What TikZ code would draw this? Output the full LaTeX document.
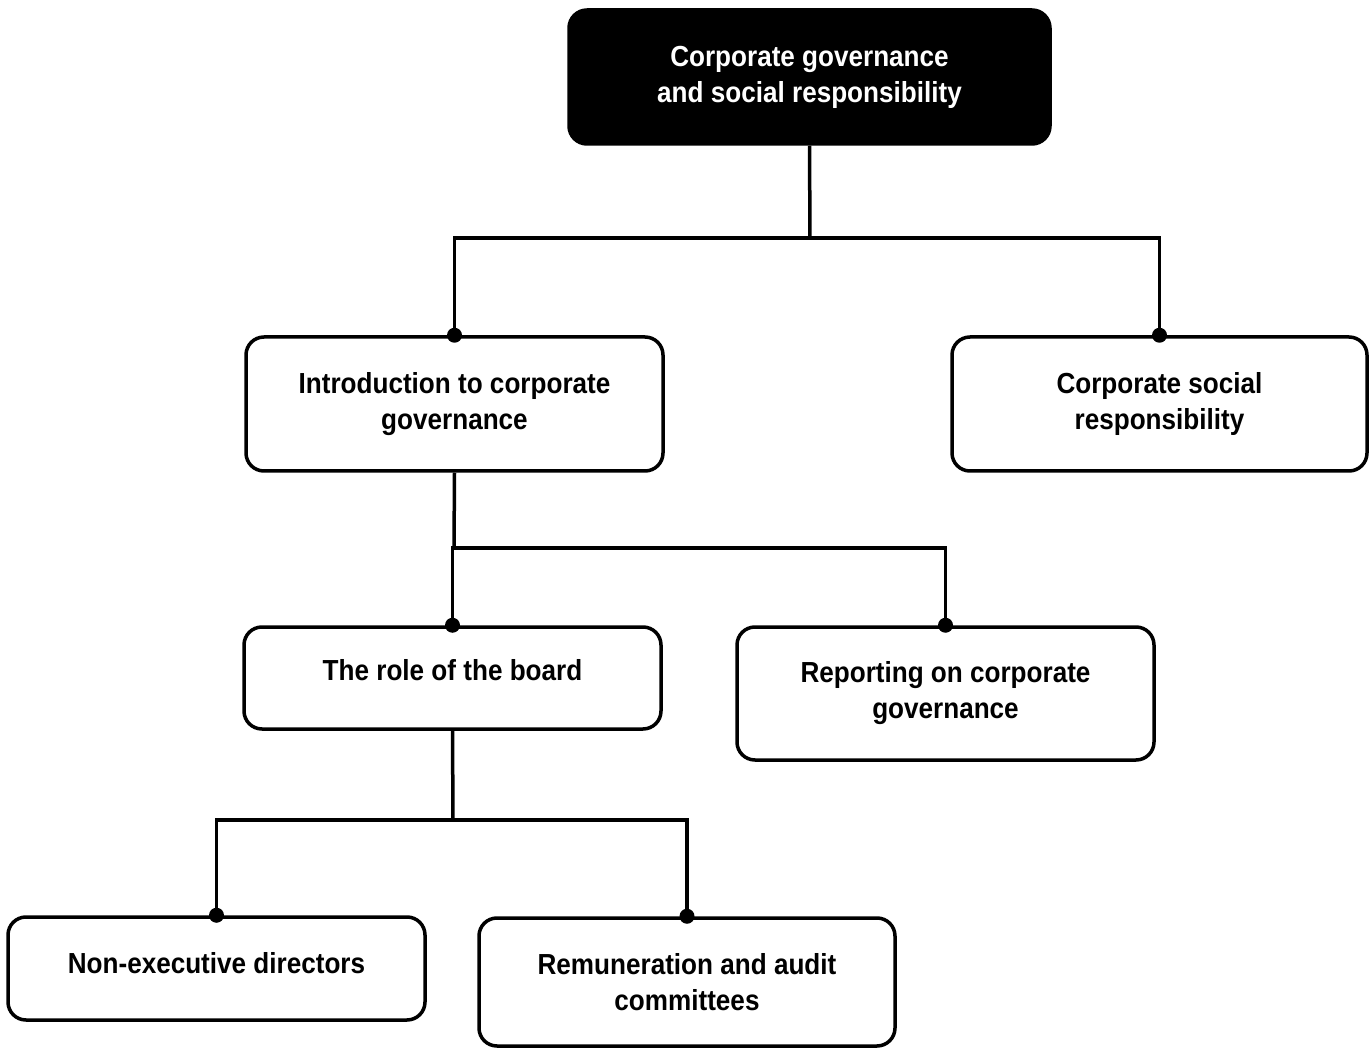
\documentclass[tikz,border=0pt]{standalone}
\usepackage{fontspec}
\setmainfont{Liberation Sans}[FakeStretch=0.9]
\begin{document}
\begin{tikzpicture}[x=1pt,y=-1pt,
  box/.style={draw=black, line width=3.5pt, rounded corners=18pt, fill=white,
    align=center, inner sep=0pt, font=\fontsize{29}{36}\selectfont\bfseries},
  rootbox/.style={box, fill=black, text=white},
  link/.style={line width=3.5pt},
  joint/.style={circle, fill=black, inner sep=0pt, minimum size=15pt}]
\useasboundingbox (0,0) rectangle (1369,1048);

% boxes
\node[rootbox, minimum width=481pt, minimum height=134pt] (root) at (809.5,77)
  {Corporate governance\\and social responsibility};
\node[box, minimum width=417pt, minimum height=134pt] (intro) at (454.5,404)
  {Introduction to corporate\\governance};
\node[box, minimum width=415pt, minimum height=134pt] (csr) at (1159.5,404)
  {Corporate social\\responsibility};
\node[box, minimum width=417pt, minimum height=102pt] (role) at (452.5,678)
  {\raisebox{16pt}{The role of the board}};
\node[box, minimum width=417pt, minimum height=133pt] (report) at (945.5,693.5)
  {Reporting on corporate\\governance};
\node[box, minimum width=417pt, minimum height=103pt] (ned) at (216.5,968.5)
  {\raisebox{12pt}{Non-executive directors}};
\node[box, minimum width=416pt, minimum height=128pt] (remun) at (687,982)
  {Remuneration and audit\\committees};

% branch points
\coordinate (j1) at (810,238);
\coordinate (j2) at (454,548);
\coordinate (j3) at (453,820);

% connectors
\draw[link] (root.south) -- (j1);
\draw[link] (j1) -| (intro.north);
\draw[link] (j1) -| (csr.north);
\draw[link] (intro.south) -- (j2);
\draw[link] (j2) -| (role.north);
\draw[link] (j2) -| (report.north);
\draw[link] (role.south) -- (j3);
\draw[link] (j3) -| (ned.north);
\draw[link] (j3) -| (remun.north);

% joint dots
\foreach \n in {intro,csr,role,report,ned,remun}
  \node[joint] at (\n.north) {};
\end{tikzpicture}
\end{document}
